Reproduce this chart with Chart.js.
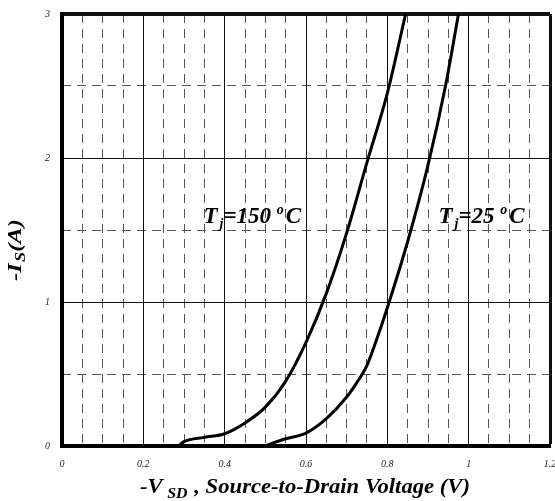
<!DOCTYPE html>
<html>
<head>
<meta charset="utf-8">
<script src="https://cdn.jsdelivr.net/npm/chart.js@4.4.1/dist/chart.umd.min.js"></script>
<style>
  html, body { margin: 0; padding: 0; background: #ffffff; overflow: hidden; }
  #wrap { position: relative; width: 555px; height: 501px; }
</style>
</head>
<body>
<div id="wrap"><canvas id="c" width="555" height="501"></canvas></div>
<script>
// ---- Data ----
const vTj150 = [0.287, 0.30, 0.35, 0.40, 0.45, 0.50, 0.55, 0.60, 0.65, 0.70, 0.75, 0.80, 0.845];
const iTj150 = [0.00, 0.03, 0.06, 0.085, 0.16, 0.27, 0.45, 0.72, 1.06, 1.48, 1.97, 2.45, 3.00];
const vTj25  = [0.497, 0.55, 0.60, 0.65, 0.70, 0.725, 0.75, 0.775, 0.80, 0.85, 0.90, 0.943, 0.975];
const iTj25  = [0.00, 0.05, 0.09, 0.19, 0.34, 0.44, 0.56, 0.75, 0.96, 1.42, 1.95, 2.50, 3.00];
const xTickStep = 0.2, xMinorStep = 0.05, yTickStep = 1, yMinorStep = 0.5;
const xMin = 0, xMax = 1.2, yMin = 0, yMax = 3;
const label150 = { x: 0.348, y: 1.55, sub: 'j', main: '=150 ', deg: 'o', unit: 'C' };
const label25  = { x: 0.926, y: 1.55, sub: 'j', main: '=25 ', deg: 'o', unit: 'C' };

const toPts = (xs, ys) => xs.map((x, i) => ({ x: x, y: ys[i] }));
const isMult = (v, s) => Math.abs(v / s - Math.round(v / s)) < 1e-6;
const SERIF = '"Liberation Serif", "DejaVu Serif", serif';

function drawParts(ctx, parts, x, y) {
  let cx = x;
  for (const p of parts) {
    ctx.font = 'italic bold ' + p.size + 'px ' + SERIF;
    ctx.fillText(p.t, cx, y + (p.dy || 0));
    cx += ctx.measureText(p.t).width + (p.gap || 0);
  }
  return cx - x;
}
function partsWidth(ctx, parts) {
  let w = 0;
  for (const p of parts) {
    ctx.font = 'italic bold ' + p.size + 'px ' + SERIF;
    w += ctx.measureText(p.t).width + (p.gap || 0);
  }
  return w;
}

const textPlugin = {
  id: 'textPlugin',
  afterDraw(chart) {
    const ctx = chart.ctx;
    const xs = chart.scales.x, ys = chart.scales.y;
    ctx.save();
    ctx.fillStyle = '#000';
    ctx.textBaseline = 'alphabetic';
    ctx.textAlign = 'left';
    // temperature labels
    for (const L of [label150, label25]) {
      const parts = [
        { t: 'T', size: 23, gap: 2 },
        { t: L.sub, size: 14, dy: 5 },
        { t: L.main, size: 23 },
        { t: L.deg, size: 14, dy: -9, gap: 2 },
        { t: L.unit, size: 23 }
      ];
      drawParts(ctx, parts, xs.getPixelForValue(L.x), ys.getPixelForValue(L.y));
    }
    // x axis title (slightly stretched horizontally like the reference)
    const xt = [
      { t: '-V', size: 20, gap: 4 },
      { t: 'SD', size: 14, dy: 5, gap: 1 },
      { t: ' , Source-to-Drain Voltage (V)', size: 20 }
    ];
    const wx = partsWidth(ctx, xt);
    const sx = 330 / wx;
    ctx.save();
    ctx.translate(305, 493);
    ctx.scale(sx, 1);
    drawParts(ctx, xt, -wx / 2, 0);
    ctx.restore();
    // y axis title (rotated, stretched along its length)
    const yt = [
      { t: '-I', size: 19, gap: 1 },
      { t: 'S', size: 14, dy: 4 },
      { t: '(A)', size: 19 }
    ];
    const wy = partsWidth(ctx, yt);
    const sy = 62 / wy;
    ctx.save();
    ctx.translate(21, 250);
    ctx.rotate(-Math.PI / 2);
    ctx.scale(sy, 1);
    drawParts(ctx, yt, -wy / 2, 0);
    ctx.restore();
    ctx.restore();
  }
};

const tickFont = { family: SERIF, size: 10, style: 'italic' };
const fmt = v => String(+Number(v).toFixed(2));

new Chart(document.getElementById('c'), {
  type: 'scatter',
  data: {
    datasets: [
      { label: 'Tj=150°C', data: toPts(vTj150, iTj150), showLine: true, borderColor: '#000', borderWidth: 3,
        pointRadius: 0, cubicInterpolationMode: 'monotone', fill: false },
      { label: 'Tj=25°C', data: toPts(vTj25, iTj25), showLine: true, borderColor: '#000', borderWidth: 3,
        pointRadius: 0, cubicInterpolationMode: 'monotone', fill: false }
    ]
  },
  options: {
    responsive: false,
    animation: false,
    events: [],
    layout: { padding: { left: 0, right: 5, top: 14, bottom: 0 } },
    plugins: { legend: { display: false }, tooltip: { enabled: false }, title: { display: false } },
    scales: {
      xMinor: {
        type: 'linear', position: 'bottom', min: xMin, max: xMax,
        ticks: { display: false, stepSize: xMinorStep },
        grid: { drawTicks: false, color: c => isMult(c.tick.value, xTickStep) ? 'rgba(0,0,0,0)' : '#555', lineWidth: 1 },
        border: { display: false, dash: [9, 6] },
        afterFit: s => { s.height = 0; s.paddingLeft = 0; s.paddingRight = 0; }
      },
      yMinor: {
        type: 'linear', position: 'left', min: yMin, max: yMax,
        ticks: { display: false, stepSize: yMinorStep },
        grid: { drawTicks: false, color: c => isMult(c.tick.value, yTickStep) ? 'rgba(0,0,0,0)' : '#555', lineWidth: 1 },
        border: { display: false, dash: [9, 6] },
        afterFit: s => { s.width = 0; s.paddingTop = 0; s.paddingBottom = 0; }
      },
      x: {
        type: 'linear', position: 'bottom', min: xMin, max: xMax,
        ticks: { stepSize: xTickStep, color: '#222', font: tickFont, padding: 12, maxRotation: 0, autoSkip: false, callback: fmt },
        grid: { drawTicks: false, color: '#111', lineWidth: c => (c.tick.value >= xMax - 1e-9 ? 3 : 1) },
        border: { display: true, color: '#000', width: 4 },
        afterFit: s => { s.height = 55; s.paddingLeft = 0; s.paddingRight = 0; }
      },
      y: {
        type: 'linear', position: 'left', min: yMin, max: yMax,
        ticks: { stepSize: yTickStep, color: '#222', font: tickFont, padding: 12, callback: fmt },
        grid: { drawTicks: false, color: '#111', lineWidth: c => (c.tick.value >= yMax - 1e-9 ? 4 : 1) },
        border: { display: true, color: '#000', width: 4 },
        afterFit: s => { s.width = 62; s.paddingTop = 0; s.paddingBottom = 0; }
      }
    }
  },
  plugins: [textPlugin]
});
</script>
</body>
</html>
